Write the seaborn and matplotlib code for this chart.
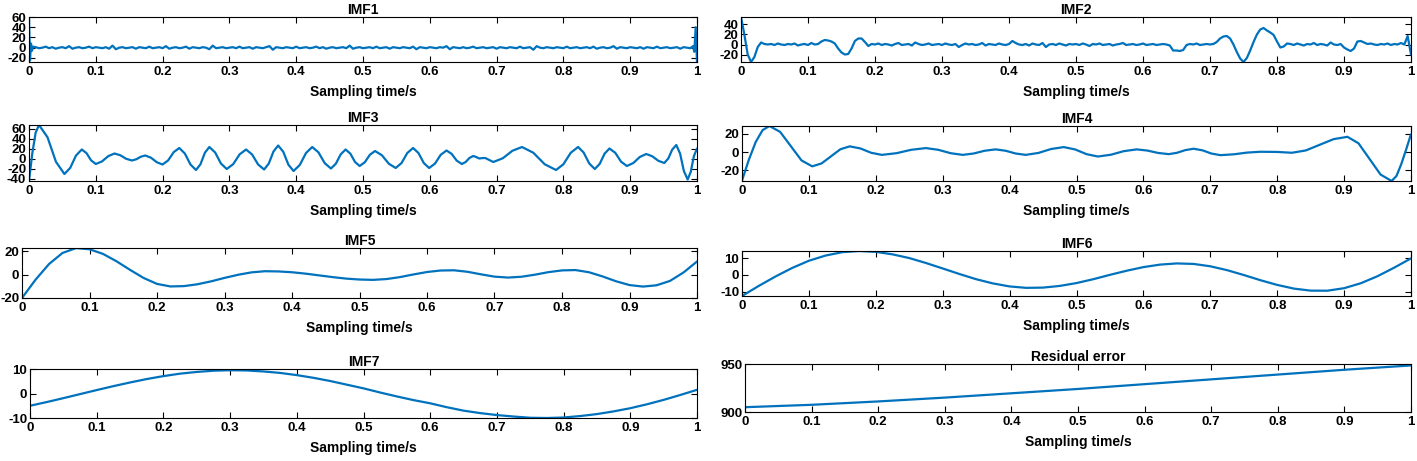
import matplotlib
matplotlib.use("Agg")
import matplotlib.pyplot as plt
import numpy as np
import seaborn as sns

# ---- data ---------------------------------------------------------------
# IMF1: end spikes plus small jitter on a 0.005 s grid
imf1_head_t = [0.0, 0.0015, 0.003, 0.0045, 0.006]
imf1_head_v = [60, -25, 8, -6, 2]
imf1_mid_v = [
    1, -1, 0, 2, -1, 1, -2, 0, 1, -1, 3, -2, 0, 1, -1, 0, 2, -1, 1, 0,
    -1, 1, -2, 4, -3, 0, 1, -1, 0, 1, -2, 1, 0, -1, 2, -1, 0, 1, -1, 3,
    -2, 0, 1, -1, 0, 2, -2, 1, 0, -1, 1, 0, -3, 4, -1, 0, 1, -1, 0, 1,
    -1, 2, -1, 0, 1, -2, 1, 0, -1, 1, 3, -4, 1, 0, -1, 1, 0, -1, 2, -1,
    0, 1, -1, 0, 2, -1, 1, -2, 0, 1, -1, 0, 1, -1, 4, -2, 0, 1, -1, 0,
    1, -1, 2, -1, 0, 1, -2, 1, 0, -1, 1, 0, -1, 2, -3, 1, 0, -1, 1, 0,
    -1, 1, 0, 3, -3, 1, 0, -1, 1, -1, 0, 2, -1, 0, 1, -1, 0, 1, -2, 1,
    0, -1, 1, 0, -1, 2, -1, 0, 1, -4, 3, 0, -1, 1, 0, -1, 1, 0, -1, 2,
    -1, 0, 1, -1, 0, 1, -1, 2, -2, 0, 1, -1, 0, 3, -2, 1, 0, -1, 1, 0,
    -1, 1, -2, 1, 0, -1, 2, -1, 0, 1, -1, 0, 1, -2, 1, 0, -1,
]
imf1_tail_t = [0.994, 0.996, 0.998, 1.0]
imf1_tail_v = [3, -8, 40, -28]

# IMF2 on a 0.005 s grid
imf2_v = [
    55, 20, -20, -35, -25, -5, 4, 1,
    0, 1, -1, 2, 0, -1, 1, 0, 2, -2, 0, 1, -1, 3, 0, 1,
    6, 9, 8, 6, 2, -8, -16, -20, -19, -8, 7, 12, 12, 5, -3, 1,
    0, 2, -1, 1, 0, -2, 1, 3, -1, 0, 1, -2, 4, 1, -1, 0, 2, -1, 0, 1,
    -1, 2, 0, -1, 1, -5, -1, 2, 0, 1, -1, 0, 3, -2, 1, 0, -1, 2, 0, -1,
    1, 7, 3, 0, -1, 1, -2, 2, 0, -1, 3, -5, 0, 1, -1, 2, 0, -2, 1, 0,
    1, -1, 2, 0, -3, 1, 0, 2, -1, 0, 1, -2, 0, 1, 3, -1, 0, 1, -1, 0,
    2, -1, 0, 1, -1, 0, 1, 0,
    -2, -12, -12, -13, -11, -1,
    1, 0, 2, -1, 0, 1,
    0, 1, 5, 12, 16, 17, 12, 0, -15, -28, -35, -27, -12, 5, 20, 30, 33, 28, 24, 19, 6, -6, -4, 2,
    1, -1, 2, 0, -2, 1, 0, 3, -1, 1, 0, -2, 4, 0, -1, 1,
    -6, -10, -13, -8, 6, 7, 4,
    1, 2, 0, -1, 1, 0, 2, -1, 1, 0,
    3, 0, 17, -20,
]

imf3_t = [
    0.000, 0.005, 0.010, 0.015, 0.0277, 0.0403, 0.053, 0.0617, 0.0703, 0.079,
    0.086, 0.093, 0.100, 0.1093, 0.1187, 0.128, 0.1367, 0.1453, 0.154, 0.1607,
    0.1673, 0.174, 0.1827, 0.1913, 0.200, 0.2083, 0.2167, 0.225, 0.2333, 0.2417,
    0.250, 0.2567, 0.2633, 0.270, 0.2787, 0.2873, 0.296, 0.3057, 0.3153, 0.325,
    0.334, 0.343, 0.352, 0.359, 0.366, 0.373, 0.3807, 0.3883, 0.396, 0.4053,
    0.4147, 0.424, 0.4333, 0.4427, 0.452, 0.4593, 0.4667, 0.474, 0.481, 0.488,
    0.495, 0.5027, 0.5103, 0.518, 0.5283, 0.5387, 0.549, 0.5577, 0.5663, 0.575,
    0.583, 0.591, 0.599, 0.6077, 0.6163, 0.625, 0.6327, 0.6403, 0.648, 0.6537,
    0.6593, 0.665, 0.6695, 0.674, 0.6785, 0.683, 0.689, 0.695, 0.7093, 0.7237,
    0.738, 0.755, 0.772, 0.789, 0.800, 0.811, 0.822, 0.8303, 0.8387, 0.847,
    0.8543, 0.8617, 0.869, 0.8777, 0.8863, 0.895, 0.9047, 0.9143, 0.924, 0.933,
    0.942, 0.951, 0.957, 0.963, 0.969, 0.9747, 0.9803, 0.986, 0.9907, 0.9953,
    1.000,
]
imf3_v = [
    -45, 11, 52, 67, 42.5, -6.5, -31, -18.8, 5.8, 18,
    10.8, -3.8, -11, -5.8, 4.8, 10, 6.5, -0.5, -4, -1.5,
    3.5, 6, 1.5, -7.5, -12, -3.8, 12.8, 21, 10, -12,
    -23, -11.5, 11.5, 23, 12, -10, -21, -11.3, 8.3, 18,
    8, -12, -22, -10, 14, 26, 13.3, -12.3, -25, -13,
    11, 23, 12.3, -9.3, -20, -10.5, 8.5, 18, 9.8, -6.8,
    -15, -7.5, 7.5, 15, 6.5, -10.5, -19, -9, 11, 21,
    11, -9, -19, -10.3, 7.3, 16, 9.3, -4.3, -11, -7,
    1, 5, 3, 0, 0.8, 1, -3, -7, 0.5, 15.5,
    23, 11.5, -11.5, -23, -11.5, 11.5, 23, 12, -10, -21,
    -10.8, 9.8, 20, 11.3, -6.3, -15, -9, 3, 9, 4.5,
    -4.5, -9, 0, 18, 27, 9.8, -24.8, -42, -26.5, 4.5,
    20,
]

imf4_t = [
    0, 0.0103, 0.0205, 0.0308, 0.041, 0.057, 0.073, 0.089, 0.105, 0.119,
    0.133, 0.147, 0.161, 0.177, 0.193, 0.209, 0.231, 0.253, 0.275, 0.2933,
    0.3117, 0.33, 0.3463, 0.3627, 0.379, 0.394, 0.409, 0.424, 0.443, 0.462,
    0.481, 0.498, 0.515, 0.532, 0.5513, 0.5707, 0.59, 0.606, 0.622, 0.638,
    0.6503, 0.6627, 0.675, 0.6883, 0.7017, 0.715, 0.735, 0.755, 0.775, 0.80,
    0.822, 0.8428, 0.8635, 0.8843, 0.905, 0.9215, 0.938, 0.9545, 0.971, 0.9783,
    0.9855, 0.9928, 1.0,
]
imf4_v = [
    -31, -8.2, 11.1, 24.0, 28.5, 22.1, 6.5, -9.1, -15.5, -12.3,
    -4.6, 3.1, 6.3, 4.0, -0.7, -3, -1.15, 2.55, 4.4, 2.55,
    -1.15, -3, -1.5, 1.5, 3, 1.5, -1.5, -3, -0.9, 3.4,
    5.5, 2.9, -2.2, -4.8, -2.85, 1.05, 3, 1.7, -0.9, -2.2,
    -0.7, 2.2, 3.7, 1.95, -1.55, -3.3, -2.4, -0.5, 0.4, 0.2,
    -0.7, 1.84, 8.0, 14.16, 16.7, 9.66, -7.4, -24.46, -31.5, -26,
    -13, 3, 19.6,
]

# IMF5 on a 0.02 s grid
imf5_v = [
    -20.3, -4.5, 9.1, 18.7, 22.9, 21.9, 17.9, 11.5, 4.1, -2.9,
    -8.1, -10.3, -10.0, -8.4, -5.9, -2.9, -0.2, 1.9, 2.9, 2.7,
    2.0, 0.8, -0.7, -2.2, -3.5, -4.3, -4.6, -3.9, -2.2, 0.1,
    2.2, 3.5, 3.7, 2.4, 0.2, -1.8, -2.6, -1.9, -0.1, 2.1,
    3.6, 3.9, 2.0, -1.6, -5.8, -9.1, -10.4, -9.3, -5.5, 1.8,
    11.3,
]

# IMF6 on a 0.025 s grid
imf6_v = [
    -12.6, -6.6, -1.0, 4.1, 8.4, 11.5, 13.5, 14.2, 13.7, 12.2,
    10.0, 7.05, 3.8, 0.5, -2.6, -5.1, -6.9, -7.75, -7.6, -6.6,
    -4.9, -2.6, 0.0, 2.45, 4.6, 6.1, 6.8, 6.5, 5.1, 2.8,
    -0.1, -3.2, -6.0, -8.2, -9.4, -9.45, -7.95, -5.0, -0.8, 4.3,
    9.8,
]

# IMF7 on a 0.025 s grid
imf7_v = [
    -5.0, -3.5, -1.9, -0.25, 1.4, 3.0, 4.5, 5.9, 7.1, 8.1,
    8.8, 9.3, 9.5, 9.4, 9.0, 8.4, 7.5, 6.4, 5.1, 3.6,
    2.1, 0.4, -1.2, -2.7, -4.0, -5.6, -7.0, -8.0, -8.8, -9.4,
    -9.9, -10.0, -9.8, -9.2, -8.4, -7.3, -6.0, -4.4, -2.6, -0.6,
    1.5,
]

# residual on a 0.1 s grid
resid_v = [905, 907.5, 911, 915, 919.5, 924, 929, 934, 939, 944, 948.5]

x_ticks = [0, 0.1, 0.2, 0.3, 0.4, 0.5, 0.6, 0.7, 0.8, 0.9, 1]
x_tick_labels = ["0", "0.1", "0.2", "0.3", "0.4", "0.5", "0.6", "0.7", "0.8", "0.9", "1"]

imf1_t = imf1_head_t + list(np.round(np.arange(0.010, 0.9901, 0.005), 3)) + imf1_tail_t
imf1_v = imf1_head_v + imf1_mid_v + imf1_tail_v


def grid(vals):
    return np.linspace(0, 1, len(vals))


# title, t, v, y ticks, y limits, pixel box (left, top, right, bottom)
panels = [
    ("IMF1", imf1_t, imf1_v, [-20, 0, 20, 40, 60], (-28, 60), (29, 17, 697, 62)),
    ("IMF2", grid(imf2_v), imf2_v, [-20, 0, 20, 40], (-35, 55), (741, 17, 1411, 62)),
    ("IMF3", imf3_t, imf3_v, [-40, -20, 0, 20, 40, 60], (-45, 67), (29, 125, 697, 181)),
    ("IMF4", imf4_t, imf4_v, [-20, 0, 20], (-31.5, 28.5), (742, 126, 1411, 181)),
    ("IMF5", grid(imf5_v), imf5_v, [-20, 0, 20], (-20.3, 23), (22, 248, 697, 298)),
    ("IMF6", grid(imf6_v), imf6_v, [-10, 0, 10], (-12.6, 14.2), (742, 251, 1411, 296)),
    ("IMF7", grid(imf7_v), imf7_v, [-10, 0, 10], (-10, 10), (30, 369, 697, 418)),
    ("Residual error", grid(resid_v), resid_v, [900, 950], (900, 950), (745, 364, 1411, 412)),
]

BLUE = "#0072BD"
W, H = 1417, 461

sns.set_theme(style="ticks")
plt.rcParams.update({
    "font.family": ["Liberation Sans", "DejaVu Sans"],
    "font.weight": "bold",
    "text.color": "black",
    "axes.labelcolor": "black",
    "axes.titlecolor": "black",
    "axes.titleweight": "bold",
    "axes.labelweight": "bold",
    "axes.unicode_minus": False,
    "axes.edgecolor": "black",
    "axes.linewidth": 0.8,
    "xtick.direction": "in",
    "ytick.direction": "in",
    "xtick.top": True,
    "ytick.right": True,
    "xtick.color": "black",
    "ytick.color": "black",
    "xtick.major.size": 4,
    "ytick.major.size": 4,
    "xtick.major.width": 0.8,
    "ytick.major.width": 0.8,
    "xtick.labelsize": 9.5,
    "ytick.labelsize": 9.5,
    "xtick.major.pad": 3,
    "ytick.major.pad": 2,
})

fig = plt.figure(figsize=(W / 100, H / 100), dpi=100)
for title, t, v, yticks, ylim, (x0, y0, x1, y1) in panels:
    ax = fig.add_axes([x0 / W, 1 - y1 / H, (x1 - x0) / W, (y1 - y0) / H])
    sns.lineplot(x=t, y=v, ax=ax, color=BLUE, linewidth=1.6,
                 estimator=None, sort=False)
    ax.set_xlim(0, 1)
    ax.set_ylim(*ylim)
    ax.set_xticks(x_ticks)
    ax.set_xticklabels(x_tick_labels)
    ax.set_yticks(yticks)
    ax.set_yticklabels([str(y) for y in yticks])
    ax.set_title(title, fontsize=10, pad=2)
    ax.set_xlabel("Sampling time/s", fontsize=10, labelpad=5)
    ax.set_ylabel("")
    for side in ("top", "right", "left", "bottom"):
        ax.spines[side].set_visible(True)

fig.savefig("out.png", dpi=100)
